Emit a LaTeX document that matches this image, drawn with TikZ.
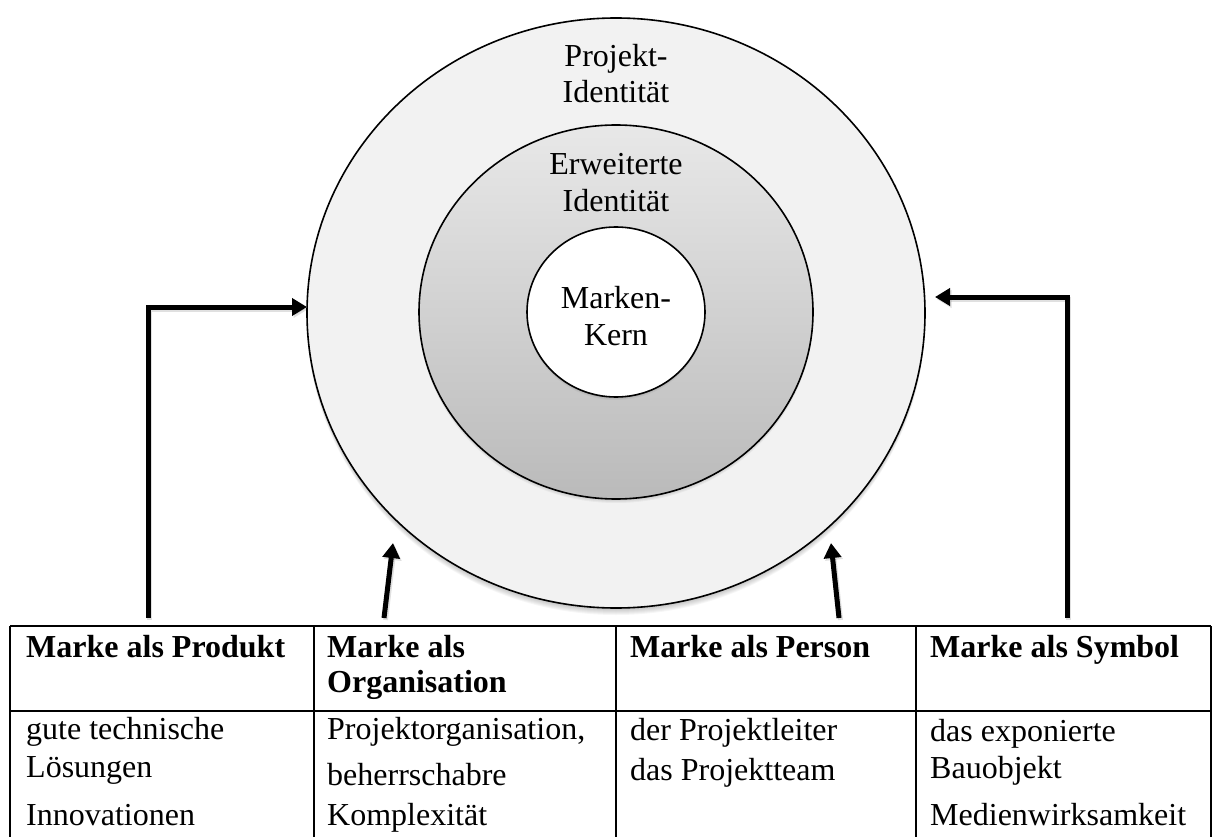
\documentclass[tikz,border=0pt]{standalone}
\usepackage{fontspec}
\setmainfont{Liberation Serif}
\usetikzlibrary{arrows.meta,shapes.geometric}
\definecolor{ringout}{RGB}{242,242,242}
\definecolor{ringtop}{RGB}{232,232,232}
\definecolor{ringbot}{RGB}{186,186,186}
\begin{document}
\begin{tikzpicture}[x=1pt,y=-1pt,
  ring/.style={ellipse, draw=black, line width=1.6pt, inner sep=0pt},
  conn/.style={line width=5pt, -{Triangle[length=15pt,width=17pt]}},
  connshadow/.style={conn, draw=black, opacity=0.12, transform canvas={shift={(1.5pt,-2pt)}}},
  tline/.style={line width=2.6pt},
  hd/.style={anchor=base west, inner sep=0pt, font=\fontsize{32}{37}\selectfont\bfseries},
  bd/.style={anchor=base west, inner sep=0pt, font=\fontsize{32}{37}\selectfont},
  lbl/.style={anchor=base, inner sep=0pt, font=\fontsize{32}{37}\selectfont}
]
\useasboundingbox (0,0) rectangle (1221,837);
% soft shadow of outer ring
\foreach \i in {1,...,7}{
  \fill[black, opacity=0.035] (616,313+\i) ellipse [x radius=309pt, y radius=295pt];
}
\node (outer) [ring, fill=ringout, minimum width=618pt, minimum height=590pt] at (616,313) {};
\foreach \i in {1,...,4}{
  \fill[black, opacity=0.04] (616,312+\i) ellipse [x radius=197pt, y radius=187pt];
}
\node (middle) [ring, top color=ringtop, bottom color=ringbot, minimum width=394pt, minimum height=374pt] at (616,312) {};
\foreach \i in {1,...,3}{
  \fill[black, opacity=0.04] (616,312+\i) ellipse [x radius=89pt, y radius=85pt];
}
\node (inner) [ring, fill=white, minimum width=178pt, minimum height=170pt] at (616,312) {};

% circle labels
\node (p1) [lbl] at (616,67) {Projekt-};
\node (p2) [lbl] at (616,103) {Identität};
\node (e1) [lbl] at (616,175) {Erweiterte};
\node (e2) [lbl] at (616,212) {Identität};
\node (k1) [lbl] at (616,308) {Marken-};
\node (k2) [lbl] at (616,345) {Kern};

% arrows
\coordinate (aL) at (148,618);
\coordinate (tL) at (307,307);
\coordinate (aR) at (1067,618);
\coordinate (tR) at (935,297);
\coordinate (aM1) at (384,618);
\coordinate (tM1) at (393,543);
\coordinate (aM2) at (839,618);
\coordinate (tM2) at (831,543);
\draw[connshadow] (aL) |- (tL);
\draw[connshadow] (aR) |- (tR);
\draw[connshadow] (aM1) -- (tM1);
\draw[connshadow] (aM2) -- (tM2);
\draw[conn] (aL) |- (tL);
\draw[conn] (aR) |- (tR);
\draw[conn] (aM1) -- (tM1);
\draw[conn] (aM2) -- (tM2);

% table
\draw[tline] (10,626) -- (1211,626);
\draw[tline] (10,711) -- (1211,711);
\foreach \x in {10,314,616,916,1211}{
  \draw[tline] (\x,626) -- (\x,845);
}
\node (h1) [hd] at (26,657) {Marke als Produkt};
\node (h2a) [hd] at (327,657) {Marke als};
\node (h2b) [hd] at (327,692) {Organisation};
\node (h3) [hd] at (630,657) {Marke als Person};
\node (h4) [hd] at (930,657) {Marke als Symbol};

\node (b1a) [bd] at (26,739) {gute technische};
\node (b1b) [bd] at (26,777) {Lösungen};
\node (b1c) [bd] at (26,825) {Innovationen};
\node (b2a) [bd] at (327,739) {Projektorganisation,};
\node (b2b) [bd] at (327,785) {beherrschabre};
\node (b2c) [bd] at (327,825) {Komplexität};
\node (b3a) [bd] at (630,740) {der Projektleiter};
\node (b3b) [bd] at (630,780) {das Projektteam};
\node (b4a) [bd] at (930,741) {das exponierte};
\node (b4b) [bd] at (930,778) {Bauobjekt};
\node (b4c) [bd] at (930,825) {Medienwirksamkeit};
\end{tikzpicture}
\end{document}
